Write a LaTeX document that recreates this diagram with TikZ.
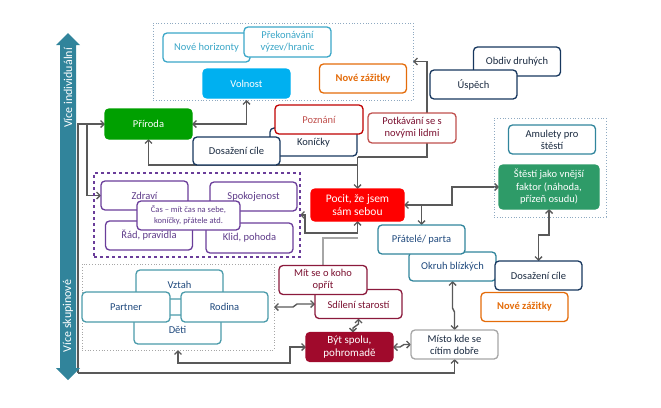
\documentclass[tikz,border=0pt]{standalone}
\usepackage{fontspec}
\setmainfont{Carlito}
\usetikzlibrary{arrows.meta,backgrounds}
\definecolor{lblue}{HTML}{3BA7C8}
\definecolor{volc}{HTML}{00B0F0}
\definecolor{orng}{HTML}{E46C0A}
\definecolor{navy}{HTML}{17375E}
\definecolor{navytxt}{HTML}{1A2A40}
\definecolor{grn}{HTML}{00A000}
\definecolor{redb}{HTML}{C00000}
\definecolor{redt}{HTML}{C0504D}
\definecolor{pocc}{HTML}{FF0000}
\definecolor{stc}{HTML}{2E9B68}
\definecolor{tealc}{HTML}{31859C}
\definecolor{greyb}{HTML}{A6A6A6}
\definecolor{bytc}{HTML}{A00A2C}
\definecolor{burg}{HTML}{8B1A3C}
\definecolor{burgt}{HTML}{7B1030}
\definecolor{purp}{HTML}{6A3D9A}
\definecolor{purpt}{HTML}{5F3C8A}
\definecolor{famb}{HTML}{4A9BAA}
\definecolor{famt}{HTML}{1F497D}
\definecolor{bigarr}{HTML}{31849B}
\definecolor{linec}{HTML}{595959}
\definecolor{dotc}{HTML}{8EA9C1}
\tikzset{
  box/.style={draw, rounded corners=4pt, line width=1.3pt, fill=white, minimum width=87pt, minimum height=29pt, align=center, inner sep=1pt, outer sep=0pt, font=\fontsize{10.5}{12}\selectfont},
  fbox/.style={box, text=white},
  grpdot/.style={draw=dotc, dotted, line width=0.8pt, inner sep=0pt, outer sep=0pt},
  grpdash/.style={draw=purp, dashed, line width=1.1pt, inner sep=0pt, outer sep=0pt},
  arr/.style={draw=linec, line width=1.4pt, arrows={-Straight Barb[length=3.5pt,width=7pt]}},
  arr2/.style={arr, arrows={Straight Barb[length=3.5pt,width=7pt]-Straight Barb[length=3.5pt,width=7pt]}},
  arrl/.style={draw=greyb, line width=1.2pt}
}
\begin{document}
\begin{tikzpicture}[x=1pt,y=-1pt]
\useasboundingbox (0,0) rectangle (661,407);
% big vertical double arrow
\fill[bigarr] (68,33) -- (80,45) -- (76,45) -- (76,368) -- (80,368) -- (68,380) -- (56,368) -- (60,368) -- (60,45) -- (56,45) -- cycle;
\node[rotate=90, text=white, font=\fontsize{12}{12}\selectfont] (lind) at (68,88) {Více individuální};
\node[rotate=90, text=white, font=\fontsize{12}{12}\selectfont] (lskup) at (68,316) {Více skupinové};
% groups
\node[grpdot, minimum width=260pt, minimum height=77pt] (topgrp) at (283,61.5) {};
\node[grpdot, minimum width=112pt, minimum height=99pt] (rgrp) at (550,167.5) {};
\node[grpdash, minimum width=206pt, minimum height=84pt] (pgrp) at (197,215) {};
\node[grpdot, draw=greyb, minimum width=192pt, minimum height=86pt] (fgrp) at (178,307) {};
% top group
\node[box, draw=lblue, text=lblue] (horiz) at (206.5,47.5) {Nové horizonty};
\node[box, draw=lblue, text=lblue, minimum height=30pt] (prek) at (287.5,42) {Překonávání\\výzev/hranic};
\node[fbox, draw=volc, fill=volc] (volnost) at (246.5,83.5) {Volnost};
\node[box, draw=orng, text=orng, font=\fontsize{10.5}{12}\selectfont\bfseries] (zaz1) at (363,78.5) {Nové zážitky};
% right top
\node[box, draw=navy, text=navytxt] (obdiv) at (517,61.5) {Obdiv druhých};
\node[box, draw=navy, text=navytxt] (uspech) at (473.5,84.5) {Úspěch};
% middle top
\node[fbox, draw=grn, fill=grn, minimum height=30pt] (priroda) at (148.5,124) {Příroda};
\node[box, draw=navy, text=navytxt, minimum height=28pt] (konicky) at (313.5,142) {\\[-4pt]Koníčky};
\node[box, draw=redb, text=redt, minimum width=88pt] (poznani) at (319,119.5) {Poznání};
\node[box, draw=navy, text=navytxt, minimum height=28pt] (dosaz1) at (236.5,151) {Dosažení cíle};
\node[box, draw=redt, text=burgt, minimum width=88pt, minimum height=30pt] (potk) at (412,128) {Potkávání se s\\novými lidmi};
% right group
\node[box, draw=tealc, text=navytxt] (amulety) at (552,139.5) {Amulety pro\\štěstí};
\node[fbox, draw=stc, fill=stc, minimum width=100pt, minimum height=44pt, font=\fontsize{10.5}{12.5}\selectfont] (stesti) at (549,187) {Štěstí jako vnější\\faktor (náhoda,\\přízeň osudu)};
% centre
\node[fbox, draw=pocc, fill=pocc, minimum width=93pt, minimum height=32pt, font=\fontsize{11.5}{13.5}\selectfont] (pocit) at (357.5,205) {Pocit, že jsem\\sám sebou};
\node[box, draw=tealc, text=famt] (okruh) at (452.5,266.5) {Okruh blízkých};
\node[box, draw=tealc, text=famt] (pratele) at (421.5,239.5) {Přátelé/ parta};
\node[box, draw=navy, text=navytxt] (dosaz2) at (538.5,275.5) {Dosažení cíle};
\node[box, draw=orng, text=orng, font=\fontsize{10.5}{12}\selectfont\bfseries] (zaz2) at (524.5,307) {Nové zážitky};
\node[box, draw=greyb, text=navytxt] (misto) at (454.5,344.5) {Místo kde se\\cítím dobře};
\node[fbox, draw=bytc, fill=bytc, font=\fontsize{11}{13}\selectfont] (byt) at (349.5,347) {Být spolu,\\pohromadě};
\node[box, draw=burg, text=burgt] (sdileni) at (358.5,304) {\\[-3pt]Sdílení starostí};
\node[box, draw=burg, text=burgt, minimum width=88pt] (mit) at (323,280) {Mít se o koho\\opřít};
% purple group
\node[box, draw=purp, text=purpt] (zdravi) at (144.5,195.5) {Zdraví};
\node[box, draw=purp, text=purpt] (spokoj) at (253.5,196.5) {Spokojenost};
\node[box, draw=purp, text=purpt] (rad) at (149,235.5) {Řád, pravidla};
\node[box, draw=purp, text=purpt, minimum height=30pt] (klid) at (249.5,238) {Klid, pohoda};
\node[box, draw=purp, text=purpt, minimum width=103pt, font=\fontsize{8.5}{11}\selectfont] (cas) at (188.5,215.5) {Čas – mít čas na sebe,\\koníčky, přátele atd.};
% family group
\node[box, draw=famb, text=famt] (vztah) at (179.5,284.5) {Vztah};
\node[box, draw=famb, text=famt] (deti) at (177.5,329.5) {Děti};
\node[box, draw=famb, text=famt, minimum width=88pt, minimum height=30pt] (partner) at (126,307) {Partner};
\node[box, draw=famb, text=famt, minimum height=30pt] (rodina) at (224.5,307) {Rodina};
% connectors
\begin{pgfonlayer}{background}
\draw[arr] (78,373) |- (priroda.west);
\draw[arr] (87,124) |- (zdravi.west);
\draw[arr] (78,373) -| (misto.south);
\draw[arr2] (fgrp.south) -- (178,363) -- (290,363) |- (byt.west);
\draw[arr2] (priroda.east) -| (volnost.south |- topgrp.south);
\draw[arr] (357.5,157) -- (pocit.north);
\draw[arr] (357.5,165) -| (priroda.south);
\draw[arr] (357.5,157) -- (427,157) -- (427,61.5) -- (topgrp.east);
\draw[arrl] (mit.north) |- (357.5,238);
\draw[arr2] (pocit.south) |- (305,233) |- (pgrp.east);
\draw[arr2] (pocit.east) -- (452,205) |- (stesti.west);
\draw[arr] (421.5,205) -- (pratele.north);
\draw[arr2] (stesti.south) -- (549,235) -| (dosaz2.north);
\draw[arr2] (okruh.south) -- (452.5,308) -- (454.5,312) -- (misto.north);
\draw[arr2] (byt.east) -- (400,347) -- (404,344.5) -- (misto.west);
\draw[arr2] (sdileni.south) -- (358.5,324) -- (353,328) -- (byt.north -| 353,0);
\draw[arr2] (fgrp.east) -- (293,307) -- (297,304) -- (sdileni.west);
\end{pgfonlayer}
\end{tikzpicture}
\end{document}
